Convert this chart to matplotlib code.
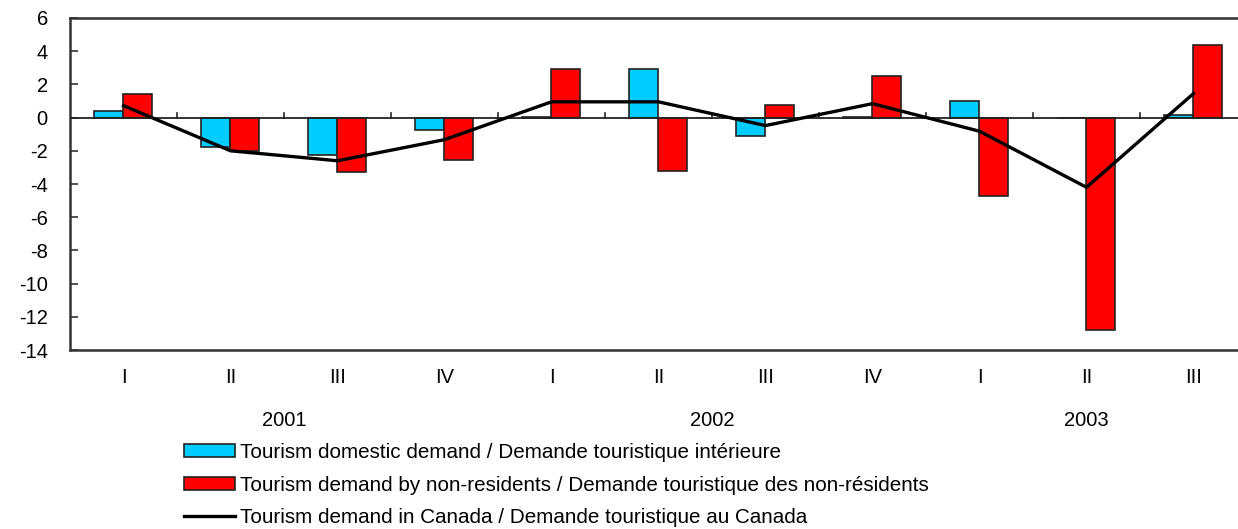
import numpy as np
import matplotlib
matplotlib.use("Agg")
import matplotlib.pyplot as plt
from matplotlib.patches import Patch
from matplotlib.lines import Line2D
import matplotlib.transforms as mtransforms

plt.rcParams['font.family'] = ['Liberation Sans', 'DejaVu Sans']
plt.rcParams['axes.unicode_minus'] = False

# Quarters and years
quarters = ['I', 'II', 'III', 'IV', 'I', 'II', 'III', 'IV', 'I', 'II', 'III']
years = ['2001', '2002', '2003']
year_centres = [1.5, 5.5, 9.0]

# Percentage change values
domestic = [0.42, -1.79, -2.23, -0.76, 0.05, 2.95, -1.1, 0.05, 1.02, 0.0, 0.18]
non_residents = [1.43, -2.03, -3.3, -2.53, 2.95, -3.19, 0.76, 2.51, -4.7, -12.8, 4.36]
canada = [0.72, -2.0, -2.6, -1.33, 0.95, 0.95, -0.48, 0.84, -0.82, -4.2, 1.45]

labels = ['Tourism domestic demand / Demande touristique intérieure',
          'Tourism demand by non-residents / Demande touristique des non-résidents',
          'Tourism demand in Canada / Demande touristique au Canada']

blue = '#00CCFF'
red = '#FF0000'
fs = 14.5

fig = plt.figure(figsize=(12.38, 5.29), dpi=100)
ax = fig.add_axes([70 / 1238, 1 - 350 / 529, 1177 / 1238, 332 / 529])

x = np.arange(len(quarters))
w = 0.27
ax.bar(x - 0.14, domestic, w, color=blue, edgecolor='#222222', linewidth=1.2, zorder=2)
ax.bar(x + 0.13, non_residents, w, color=red, edgecolor='#222222', linewidth=1.2, zorder=2)
ax.plot(x, canada, color='black', linewidth=2.4, zorder=4)

# zero line with small tick marks between quarters
ax.axhline(0, color='#222222', linewidth=1.3, zorder=3)
for b in np.arange(0.5, len(quarters) - 1, 1.0):
    ax.plot([b, b], [0, 0.3], color='#222222', linewidth=1.2, zorder=3)

ax.set_xlim(-0.5, len(quarters) - 0.5)
ax.set_ylim(-14, 6)
ax.set_yticks(range(-14, 7, 2))
ax.tick_params(axis='y', labelsize=fs, direction='in', length=6, width=1.2,
               color='#333333', pad=16)

ax.set_xticks(x)
ax.set_xticklabels(quarters, fontsize=fs)
ax.tick_params(axis='x', length=0, pad=13)

for s in ax.spines.values():
    s.set_color('#333333')
    s.set_linewidth(1.8)

# year labels under the quarters
trans = mtransforms.blended_transform_factory(ax.transData, ax.transAxes)
for yr, xc in zip(years, year_centres):
    ax.text(xc, -0.212, yr, transform=trans, ha='center', va='center', fontsize=fs)

handles = [Patch(facecolor=blue, edgecolor='#222222', linewidth=1.2),
           Patch(facecolor=red, edgecolor='#222222', linewidth=1.2),
           Line2D([0], [0], color='black', linewidth=2.4)]
fig.legend(handles, labels, loc='upper left', bbox_to_anchor=(184 / 1238, 1 - 443 / 529),
           frameon=False, fontsize=14.9, handlelength=2.45, handleheight=0.6,
           handletextpad=0.25, labelspacing=0.66, borderpad=0, borderaxespad=0)

fig.savefig('out.png', dpi=100)
